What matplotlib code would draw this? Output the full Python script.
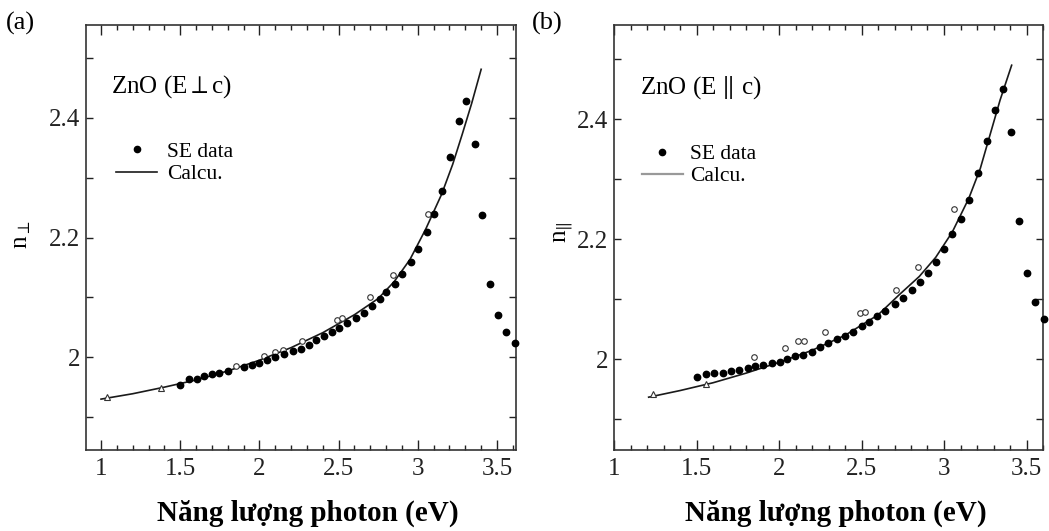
import matplotlib
matplotlib.use("Agg")
import matplotlib.pyplot as plt
from matplotlib.ticker import MultipleLocator, FormatStrFormatter
from matplotlib.lines import Line2D

plt.rcParams['font.family'] = ['Liberation Serif', 'DejaVu Serif']
plt.rcParams['mathtext.fontset'] = 'stix'

# ---- panel (a): E perpendicular to c ----
a_se_x = [1.50, 1.557, 1.606, 1.652, 1.698, 1.746, 1.80, 1.904, 1.95, 1.999, 2.05,
          2.10, 2.156, 2.21, 2.26, 2.31, 2.36, 2.41, 2.46, 2.50, 2.55, 2.61, 2.66,
          2.71, 2.76, 2.80, 2.853, 2.903, 2.954, 3.004, 3.06, 3.101, 3.153, 3.202,
          3.257, 3.303, 3.358, 3.408, 3.454, 3.505, 3.555, 3.612]
a_se_y = [1.953, 1.963, 1.964, 1.969, 1.972, 1.974, 1.977, 1.983, 1.987, 1.991, 1.996,
          2.000, 2.005, 2.011, 2.014, 2.020, 2.028, 2.036, 2.042, 2.049, 2.058, 2.066, 2.074,
          2.085, 2.098, 2.109, 2.123, 2.139, 2.159, 2.181, 2.210, 2.239, 2.277, 2.334,
          2.395, 2.428, 2.357, 2.237, 2.123, 2.070, 2.042, 2.023]
a_open_x = [1.852, 2.03, 2.10, 2.146, 2.27, 2.49, 2.52, 2.70, 2.842, 3.065]
a_open_y = [1.986, 2.002, 2.008, 2.012, 2.027, 2.063, 2.066, 2.100, 2.137, 2.240]
a_tri_x = [1.04, 1.379]
a_tri_y = [1.934, 1.949]
a_calc_x = [1.00, 1.20, 1.40, 1.60, 1.80, 2.00, 2.20, 2.40, 2.60, 2.75, 2.85, 2.95,
            3.05, 3.15, 3.22, 3.28, 3.34, 3.40]
a_calc_y = [1.930, 1.939, 1.950, 1.962, 1.977, 1.995, 2.016, 2.041, 2.071, 2.098, 2.126, 2.163,
            2.214, 2.272, 2.322, 2.372, 2.424, 2.481]

# ---- panel (b): E parallel to c ----
b_se_x = [1.501, 1.558, 1.606, 1.659, 1.709, 1.76, 1.81, 1.855, 1.905, 1.956, 2.006,
          2.05, 2.097, 2.147, 2.198, 2.248, 2.299, 2.35, 2.40, 2.45, 2.50, 2.547, 2.596,
          2.642, 2.70, 2.753, 2.804, 2.855, 2.905, 2.952, 3.002, 3.05, 3.103, 3.153,
          3.204, 3.259, 3.309, 3.356, 3.406, 3.455, 3.505, 3.552, 3.606]
b_se_y = [1.970, 1.976, 1.977, 1.978, 1.980, 1.982, 1.985, 1.989, 1.991, 1.994, 1.996,
          2.000, 2.005, 2.008, 2.013, 2.020, 2.027, 2.034, 2.039, 2.045, 2.055, 2.063, 2.073,
          2.081, 2.092, 2.103, 2.115, 2.129, 2.144, 2.163, 2.184, 2.208, 2.234, 2.266,
          2.311, 2.363, 2.415, 2.451, 2.379, 2.231, 2.144, 2.095, 2.067]
b_open_x = [1.848, 2.036, 2.117, 2.15, 2.279, 2.49, 2.52, 2.707, 2.845, 3.062]
b_open_y = [2.004, 2.019, 2.030, 2.030, 2.045, 2.077, 2.079, 2.116, 2.154, 2.251]
b_tri_x = [1.238, 1.558]
b_tri_y = [1.942, 1.959]
b_calc_x = [1.21, 1.40, 1.60, 1.80, 2.00, 2.20, 2.40, 2.60, 2.73, 2.85, 2.95, 3.05,
            3.15, 3.22, 3.28, 3.34, 3.41]
b_calc_y = [1.937, 1.948, 1.961, 1.977, 1.995, 2.015, 2.040, 2.074, 2.108, 2.138, 2.170, 2.212,
            2.268, 2.318, 2.375, 2.432, 2.490]

W, H = 1049, 531
fig = plt.figure(figsize=(W / 100, H / 100), dpi=100)

def px_axes(left, top, right, bottom):
    return fig.add_axes([left / W, 1 - bottom / H, (right - left) / W, (bottom - top) / H])

def style_axes(ax, xlim, ylim):
    ax.set_xlim(*xlim)
    ax.set_ylim(*ylim)
    ax.xaxis.set_major_locator(MultipleLocator(0.5))
    ax.xaxis.set_minor_locator(MultipleLocator(0.1))
    ax.yaxis.set_major_locator(MultipleLocator(0.2))
    ax.yaxis.set_minor_locator(MultipleLocator(0.1))
    ax.xaxis.set_major_formatter(FormatStrFormatter('%g'))
    ax.yaxis.set_major_formatter(FormatStrFormatter('%g'))
    ax.tick_params(which='both', direction='in', top=True, right=True,
                   labelsize=18, colors='#222222', width=1.0)
    ax.tick_params(axis='x', which='major', length=7, pad=6)
    ax.tick_params(axis='x', which='minor', length=3.5)
    ax.tick_params(axis='y', which='both', length=5, pad=4)
    for s in ax.spines.values():
        s.set_linewidth(1.2)
        s.set_color('#333333')

def draw_panel(ax, se_x, se_y, op_x, op_y, tri_x, tri_y, c_x, c_y):
    ax.plot(c_x, c_y, color='#1a1a1a', lw=1.2, zorder=2)
    ax.plot(op_x, op_y, 'o', ms=4, mfc='white', mec='#333333', mew=0.8, zorder=3)
    ax.plot(tri_x, tri_y, '^', ms=4.5, mfc='white', mec='#333333', mew=0.8, zorder=3)
    ax.plot(se_x, se_y, 'o', ms=4.6, color='black', zorder=4, clip_on=False)

# panel (a)
ax1 = px_axes(86, 25, 516, 450)
style_axes(ax1, (0.905, 3.62), (1.845, 2.555))
draw_panel(ax1, a_se_x, a_se_y, a_open_x, a_open_y, a_tri_x, a_tri_y, a_calc_x, a_calc_y)
ax1.text(0.058, 0.841, r'ZnO (E$\perp$c)', transform=ax1.transAxes, fontsize=18,
         va='baseline', ha='left')
h1 = [Line2D([], [], ls='none', marker='o', ms=4.5, color='black'),
      Line2D([], [], color='#1a1a1a', lw=1.2)]
ax1.legend(h1, ['SE data', 'Calcu.'], loc='upper left', bbox_to_anchor=(0.07, 0.725),
           frameon=False, fontsize=15.5, handlelength=1.9, handletextpad=0.45,
           labelspacing=0.1, borderpad=0, borderaxespad=0)

# panel (b)
ax2 = px_axes(614, 25, 1043, 450)
style_axes(ax2, (1.0, 3.6), (1.849, 2.557))
draw_panel(ax2, b_se_x, b_se_y, b_open_x, b_open_y, b_tri_x, b_tri_y, b_calc_x, b_calc_y)
ax2.text(0.061, 0.839, r'ZnO (E $\|$ c)', transform=ax2.transAxes, fontsize=18,
         va='baseline', ha='left')
h2 = [Line2D([], [], ls='none', marker='o', ms=4.5, color='black'),
      Line2D([], [], color='#999999', lw=1.6)]
ax2.legend(h2, ['SE data', 'Calcu.'], loc='upper left', bbox_to_anchor=(0.065, 0.72),
           frameon=False, fontsize=15.5, handlelength=1.9, handletextpad=0.35,
           labelspacing=0.1, borderpad=0, borderaxespad=0)

# panel letters, y labels, x labels
fig.text(6 / W, 1 - 23 / H, '(a)', fontsize=19, va='center', ha='left')
fig.text(532 / W, 1 - 23 / H, '(b)', fontsize=19, va='center', ha='left')
fig.text(22 / W, 1 - 235 / H, r'n$_{\perp}$', fontsize=18, rotation=90, va='center', ha='center')
fig.text(564 / W, 1 - 232 / H, r'n$_{\|}$', fontsize=18, rotation=90, va='center', ha='center')
fig.text(308 / W, 1 - 513 / H, 'Năng lượng photon (eV)', fontsize=21, fontweight='bold',
         va='center', ha='center')
fig.text(836 / W, 1 - 513 / H, 'Năng lượng photon (eV)', fontsize=21, fontweight='bold',
         va='center', ha='center')

fig.savefig('out.png', dpi=100)
